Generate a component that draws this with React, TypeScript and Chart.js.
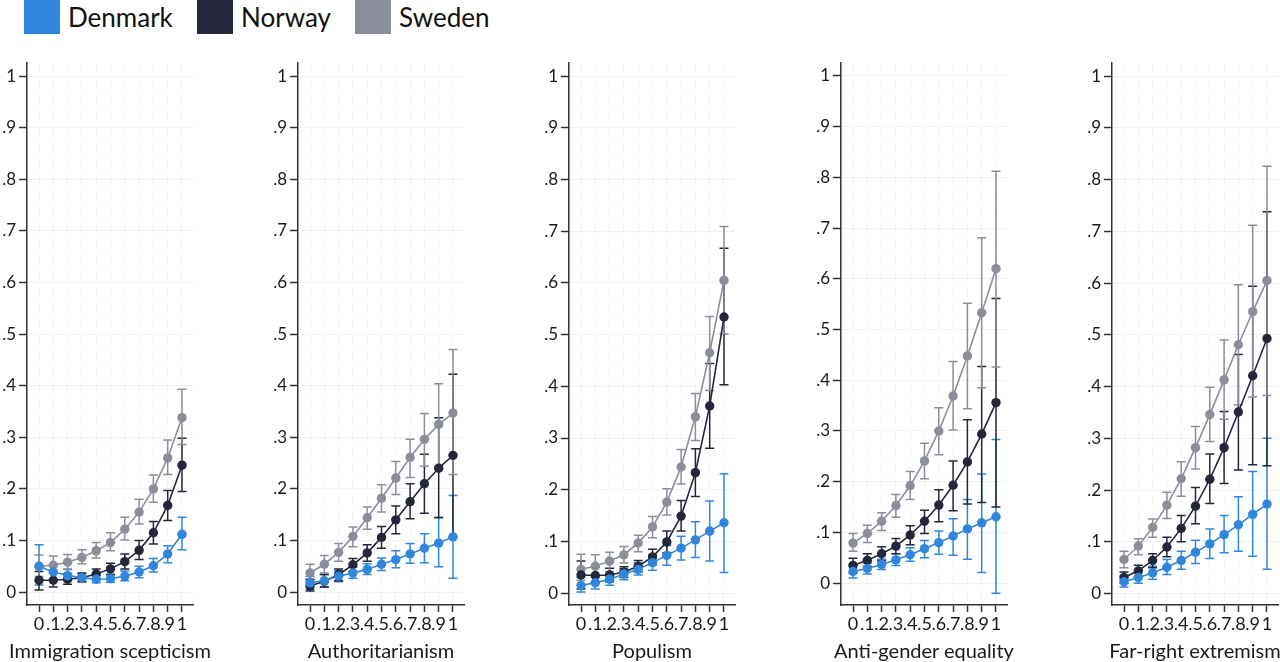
import React, { useEffect, useRef } from "react";
import { Chart, registerables } from "chart.js";

Chart.register(...registerables);

// ---------- shared axis data ----------
const xValues = [0, 0.1, 0.2, 0.3, 0.4, 0.5, 0.6, 0.7, 0.8, 0.9, 1];
const xTickLabels = ["0", ".1", ".2", ".3", ".4", ".5", ".6", ".7", ".8", ".9", "1"];
const yTickValues = [0, 0.1, 0.2, 0.3, 0.4, 0.5, 0.6, 0.7, 0.8, 0.9, 1];
const yTickLabels = ["0", ".1", ".2", ".3", ".4", ".5", ".6", ".7", ".8", ".9", "1"];
const countries = ["Denmark", "Norway", "Sweden"];
const countryColors = ["#2f86dc", "#24263a", "#8a8e9a"];
const panelTitles = [
  "Immigration scepticism",
  "Authoritarianism",
  "Populism",
  "Anti-gender equality",
  "Far-right extremism",
];
const panelYMin = [-0.025, -0.025, -0.023, -0.043, -0.022];
const panelYMax = [1.025, 1.025, 1.025, 1.025, 1.025];

// ---------- Immigration scepticism ----------
const immDenmark = [0.05, 0.039, 0.032, 0.028, 0.025, 0.026, 0.031, 0.039, 0.051, 0.074, 0.112];
const immDenmarkLo = [0.014, 0.024, 0.022, 0.02, 0.018, 0.019, 0.022, 0.028, 0.039, 0.057, 0.082];
const immDenmarkHi = [0.092, 0.055, 0.044, 0.036, 0.032, 0.034, 0.041, 0.05, 0.065, 0.09, 0.145];
const immNorway = [0.023, 0.023, 0.025, 0.028, 0.035, 0.045, 0.059, 0.081, 0.115, 0.168, 0.246];
const immNorwayLo = [0.004, 0.01, 0.015, 0.02, 0.026, 0.034, 0.045, 0.063, 0.093, 0.139, 0.195];
const immNorwayHi = [0.04, 0.037, 0.035, 0.037, 0.045, 0.056, 0.074, 0.1, 0.137, 0.197, 0.298];
const immSweden = [0.05, 0.052, 0.058, 0.067, 0.08, 0.096, 0.122, 0.155, 0.2, 0.26, 0.338];
const immSwedenLo = [0.03, 0.037, 0.045, 0.055, 0.066, 0.08, 0.101, 0.132, 0.174, 0.228, 0.286];
const immSwedenHi = [0.072, 0.07, 0.073, 0.082, 0.096, 0.115, 0.145, 0.18, 0.227, 0.295, 0.393];

// ---------- Authoritarianism ----------
const autDenmark = [0.018, 0.022, 0.031, 0.037, 0.044, 0.054, 0.063, 0.074, 0.085, 0.095, 0.107];
const autDenmarkLo = [0.005, 0.01, 0.02, 0.027, 0.034, 0.042, 0.047, 0.056, 0.057, 0.049, 0.027];
const autDenmarkHi = [0.03, 0.034, 0.042, 0.048, 0.055, 0.066, 0.08, 0.094, 0.113, 0.145, 0.187];
const autNorway = [0.012, 0.021, 0.034, 0.053, 0.076, 0.106, 0.14, 0.175, 0.21, 0.24, 0.265];
const autNorwayLo = [0.002, 0.01, 0.022, 0.04, 0.06, 0.085, 0.113, 0.142, 0.153, 0.144, 0.107];
const autNorwayHi = [0.025, 0.034, 0.045, 0.065, 0.092, 0.127, 0.167, 0.21, 0.267, 0.338, 0.422];
const autSweden = [0.037, 0.054, 0.077, 0.108, 0.144, 0.182, 0.221, 0.261, 0.296, 0.325, 0.347];
const autSwedenLo = [0.022, 0.037, 0.06, 0.088, 0.122, 0.155, 0.189, 0.222, 0.244, 0.245, 0.228];
const autSwedenHi = [0.054, 0.071, 0.094, 0.126, 0.165, 0.208, 0.253, 0.296, 0.346, 0.404, 0.47];

// ---------- Populism ----------
const popDenmark = [0.015, 0.02, 0.027, 0.037, 0.046, 0.059, 0.073, 0.087, 0.103, 0.12, 0.136];
const popDenmarkLo = [0.002, 0.008, 0.015, 0.026, 0.035, 0.044, 0.054, 0.064, 0.069, 0.062, 0.04];
const popDenmarkHi = [0.03, 0.033, 0.038, 0.047, 0.058, 0.073, 0.092, 0.11, 0.138, 0.178, 0.231];
const popNorway = [0.035, 0.034, 0.035, 0.041, 0.052, 0.07, 0.099, 0.149, 0.233, 0.362, 0.534];
const popNorwayLo = [0.008, 0.02, 0.022, 0.03, 0.041, 0.055, 0.078, 0.12, 0.187, 0.28, 0.403];
const popNorwayHi = [0.062, 0.05, 0.048, 0.051, 0.063, 0.085, 0.12, 0.179, 0.279, 0.444, 0.667];
const popSweden = [0.046, 0.052, 0.062, 0.074, 0.097, 0.128, 0.176, 0.244, 0.341, 0.465, 0.605];
const popSwedenLo = [0.025, 0.03, 0.042, 0.058, 0.08, 0.107, 0.151, 0.211, 0.295, 0.392, 0.501];
const popSwedenHi = [0.075, 0.074, 0.079, 0.09, 0.112, 0.148, 0.202, 0.278, 0.386, 0.535, 0.709];

// ---------- Anti-gender equality ----------
const genDenmark = [0.023, 0.029, 0.037, 0.046, 0.056, 0.068, 0.08, 0.093, 0.107, 0.119, 0.131];
const genDenmarkLo = [0.01, 0.018, 0.027, 0.035, 0.043, 0.05, 0.057, 0.055, 0.047, 0.021, -0.02];
const genDenmarkHi = [0.035, 0.04, 0.047, 0.058, 0.07, 0.084, 0.103, 0.127, 0.165, 0.215, 0.283];
const genNorway = [0.035, 0.045, 0.058, 0.073, 0.095, 0.122, 0.154, 0.193, 0.239, 0.294, 0.356];
const genNorwayLo = [0.02, 0.033, 0.044, 0.058, 0.076, 0.098, 0.121, 0.143, 0.156, 0.159, 0.15];
const genNorwayHi = [0.049, 0.058, 0.072, 0.088, 0.113, 0.144, 0.184, 0.241, 0.322, 0.427, 0.561];
const genSweden = [0.079, 0.098, 0.122, 0.153, 0.192, 0.241, 0.3, 0.369, 0.448, 0.533, 0.62];
const genSwedenLo = [0.063, 0.08, 0.104, 0.13, 0.165, 0.206, 0.253, 0.302, 0.344, 0.385, 0.426];
const genSwedenHi = [0.098, 0.114, 0.139, 0.175, 0.22, 0.276, 0.346, 0.437, 0.552, 0.681, 0.812];

// ---------- Far-right extremism ----------
const farDenmark = [0.023, 0.031, 0.04, 0.051, 0.064, 0.08, 0.096, 0.114, 0.133, 0.153, 0.173];
const farDenmarkLo = [0.013, 0.02, 0.028, 0.037, 0.047, 0.058, 0.068, 0.079, 0.082, 0.072, 0.047];
const farDenmarkHi = [0.034, 0.042, 0.053, 0.066, 0.082, 0.103, 0.125, 0.151, 0.187, 0.236, 0.3];
const farNorway = [0.031, 0.044, 0.064, 0.09, 0.126, 0.169, 0.221, 0.282, 0.351, 0.421, 0.493];
const farNorwayLo = [0.02, 0.033, 0.05, 0.071, 0.1, 0.135, 0.174, 0.213, 0.239, 0.249, 0.247];
const farNorwayHi = [0.042, 0.055, 0.077, 0.109, 0.151, 0.205, 0.27, 0.352, 0.462, 0.594, 0.738];
const farSweden = [0.066, 0.092, 0.128, 0.171, 0.222, 0.282, 0.346, 0.413, 0.481, 0.545, 0.605];
const farSwedenLo = [0.05, 0.075, 0.109, 0.145, 0.188, 0.241, 0.294, 0.337, 0.365, 0.38, 0.383];
const farSwedenHi = [0.082, 0.106, 0.144, 0.196, 0.255, 0.323, 0.399, 0.49, 0.597, 0.712, 0.826];

type Series = { mean: number[]; lo: number[]; hi: number[] };
const panelSeries: Series[][] = [
  [
    { mean: immDenmark, lo: immDenmarkLo, hi: immDenmarkHi },
    { mean: immNorway, lo: immNorwayLo, hi: immNorwayHi },
    { mean: immSweden, lo: immSwedenLo, hi: immSwedenHi },
  ],
  [
    { mean: autDenmark, lo: autDenmarkLo, hi: autDenmarkHi },
    { mean: autNorway, lo: autNorwayLo, hi: autNorwayHi },
    { mean: autSweden, lo: autSwedenLo, hi: autSwedenHi },
  ],
  [
    { mean: popDenmark, lo: popDenmarkLo, hi: popDenmarkHi },
    { mean: popNorway, lo: popNorwayLo, hi: popNorwayHi },
    { mean: popSweden, lo: popSwedenLo, hi: popSwedenHi },
  ],
  [
    { mean: genDenmark, lo: genDenmarkLo, hi: genDenmarkHi },
    { mean: genNorway, lo: genNorwayLo, hi: genNorwayHi },
    { mean: genSweden, lo: genSwedenLo, hi: genSwedenHi },
  ],
  [
    { mean: farDenmark, lo: farDenmarkLo, hi: farDenmarkHi },
    { mean: farNorway, lo: farNorwayLo, hi: farNorwayHi },
    { mean: farSweden, lo: farSwedenLo, hi: farSwedenHi },
  ],
];

const FONT = "Lato, 'Noto Sans', sans-serif";
const AXIS_COLOR = "#333333";
const TEXT_COLOR = "#1a1a1a";
const CANVAS_W = 240;
const CANVAS_H = 612;
const CANVAS_TOP = 50;
const Y_AXIS_W = 27;
const PLOT_W = 166;
const PLOT_TOP_PAD = 10;
const X_AXIS_H = 57;
const panelLeft = [27, 298, 569, 841, 1112];

function makeErrorBarPlugin(series: Series[]) {
  return {
    id: "errorBars",
    beforeDatasetsDraw(chart: any) {
      const ctx = chart.ctx;
      const xs = chart.scales.x;
      const ys = chart.scales.y;
      ctx.save();
      series.forEach((s, d) => {
        ctx.strokeStyle = countryColors[d];
        ctx.lineWidth = 1.5;
        xValues.forEach((xv, i) => {
          const px = xs.getPixelForValue(xv);
          const pLo = ys.getPixelForValue(s.lo[i]);
          const pHi = ys.getPixelForValue(s.hi[i]);
          ctx.beginPath();
          ctx.moveTo(px, pLo);
          ctx.lineTo(px, pHi);
          ctx.moveTo(px - 4.5, pLo);
          ctx.lineTo(px + 4.5, pLo);
          ctx.moveTo(px - 4.5, pHi);
          ctx.lineTo(px + 4.5, pHi);
          ctx.stroke();
        });
      });
      ctx.restore();
    },
  };
}

function Panel({ idx }: { idx: number }) {
  const ref = useRef<HTMLCanvasElement>(null);
  useEffect(() => {
    const series = panelSeries[idx];
    const chart = new Chart(ref.current as HTMLCanvasElement, {
      type: "line",
      data: {
        datasets: series.map((s, d) => ({
          label: countries[d],
          data: xValues.map((x, i) => ({ x, y: s.mean[i] })),
          borderColor: countryColors[d],
          backgroundColor: countryColors[d],
          pointBackgroundColor: countryColors[d],
          pointBorderWidth: 0,
          pointRadius: 4.7,
          borderWidth: 1.6,
          tension: 0,
          fill: false,
        })),
      },
      options: {
        animation: false,
        responsive: false,
        devicePixelRatio: 1,
        layout: { padding: { top: PLOT_TOP_PAD, left: 0, right: CANVAS_W - Y_AXIS_W - PLOT_W, bottom: 0 } },
        plugins: { legend: { display: false }, tooltip: { enabled: false }, title: { display: false } },
        scales: {
          x: {
            type: "linear",
            min: -0.084,
            max: 1.077,
            afterFit: (scale: any) => {
              scale.height = X_AXIS_H;
            },
            afterBuildTicks: (axis: any) => {
              axis.ticks = xValues.map((v) => ({ value: v }));
            },
            ticks: {
              autoSkip: false,
              maxRotation: 0,
              minRotation: 0,
              padding: 1,
              color: TEXT_COLOR,
              font: { family: FONT, size: 18 },
              callback: (_v: any, i: number) => xTickLabels[i],
            },
            grid: {
              color: "#f1f1f1",
              lineWidth: 1,
              tickColor: AXIS_COLOR,
              tickLength: 7,
              tickWidth: 1.5,
            },
            border: { color: AXIS_COLOR, width: 1.5, dash: [10, 6] },
            title: { display: false },
          },
          y: {
            type: "linear",
            min: panelYMin[idx],
            max: panelYMax[idx],
            afterFit: (scale: any) => {
              scale.width = Y_AXIS_W;
            },
            afterBuildTicks: (axis: any) => {
              axis.ticks = yTickValues.map((v) => ({ value: v }));
            },
            ticks: {
              autoSkip: false,
              padding: 3,
              color: TEXT_COLOR,
              font: { family: FONT, size: 17 },
              callback: (_v: any, i: number) => yTickLabels[i],
            },
            grid: {
              color: "#f0f0f0",
              lineWidth: 1,
              tickColor: AXIS_COLOR,
              tickLength: 8,
              tickWidth: 1.5,
            },
            border: { color: AXIS_COLOR, width: 1.5 },
          },
        },
      },
      plugins: [makeErrorBarPlugin(series)],
    } as any);
    return () => chart.destroy();
  }, [idx]);
  return (
    <>
      <canvas
        ref={ref}
        width={CANVAS_W}
        height={CANVAS_H}
        style={{
          position: "absolute",
          left: panelLeft[idx] - Y_AXIS_W,
          top: CANVAS_TOP,
          width: CANVAS_W,
          height: CANVAS_H,
        }}
      />
      <div
        style={{
          position: "absolute",
          left: panelLeft[idx] + PLOT_W / 2 - 150,
          top: 638,
          width: 300,
          textAlign: "center",
          fontFamily: FONT,
          fontSize: 20,
          lineHeight: "25px",
          color: TEXT_COLOR,
          whiteSpace: "nowrap",
        }}
      >
        {panelTitles[idx]}
      </div>
    </>
  );
}

function Legend() {
  const squareLeft = [24, 197, 355];
  return (
    <div style={{ position: "absolute", left: 0, top: 0, height: 34, width: 1280 }}>
      {countries.map((c, i) => (
        <div
          key={c}
          style={{
            position: "absolute",
            left: squareLeft[i],
            top: 0,
            height: 34,
            display: "flex",
            alignItems: "center",
          }}
        >
          <div style={{ width: 36, height: 34, background: countryColors[i] }} />
          <span
            style={{
              marginLeft: 8,
              fontFamily: FONT,
              fontSize: 26,
              color: "#111",
              lineHeight: "34px",
              whiteSpace: "nowrap",
            }}
          >
            {c}
          </span>
        </div>
      ))}
    </div>
  );
}

export default function App() {
  return (
    <div
      style={{
        position: "fixed",
        left: 0,
        top: 0,
        width: 1280,
        height: 662,
        overflow: "hidden",
        background: "#ffffff",
      }}
    >
      <Legend />
      {panelTitles.map((_t, i) => (
        <Panel key={i} idx={i} />
      ))}
    </div>
  );
}
